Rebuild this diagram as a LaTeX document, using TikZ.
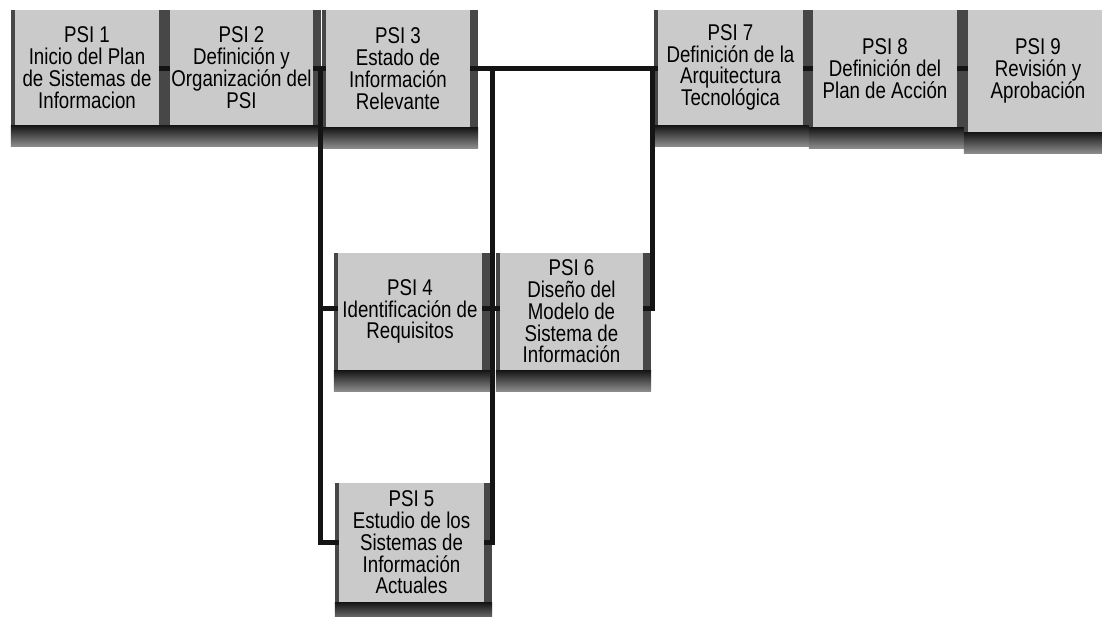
\documentclass[tikz,border=0pt]{standalone}
\usepackage{fontspec}
\setmainfont{Liberation Sans}[FakeStretch=0.82]
\usetikzlibrary{calc}
\pgfdeclarelayer{background}
\pgfsetlayers{background,main}
\definecolor{facegray}{RGB}{202,202,202}
\definecolor{linecol}{RGB}{20,20,20}
\tikzset{
  psibox/.style={rectangle, fill=facegray, inner sep=0pt, align=center,
    font=\fontsize{22.8}{21.8}\selectfont, text=black},
  conn/.style={draw=linecol, line width=5pt}
}
\begin{document}
\begin{tikzpicture}[x=1pt,y=-1pt]
\useasboundingbox (0,0) rectangle (1102,616);
% boxes
\node[psibox, minimum width=144pt, minimum height=115pt] (p1) at (87,67.5)
  {PSI 1\\Inicio del Plan\\de Sistemas de\\Informacion};
\node[psibox, minimum width=143pt, minimum height=115pt] (p2) at (241.5,67.5)
  {PSI 2\\Definición y\\Organización del\\PSI};
\node[psibox, minimum width=144pt, minimum height=117pt] (p3) at (398,68.5)
  {PSI 3\\Estado de\\Información\\Relevante};
\node[psibox, minimum width=145pt, minimum height=115pt] (p7) at (730.5,67.5)
  {PSI 7\\Definición de la\\Arquitectura\\Tecnológica};
\node[psibox, minimum width=144pt, minimum height=117pt] (p8) at (885,68.5)
  {PSI 8\\Definición del\\Plan de Acción};
\node[psibox, minimum width=140pt, minimum height=122pt] (p9) at (1038,71)
  {PSI 9\\Revisión y\\Aprobación};
\node[psibox, minimum width=144pt, minimum height=117pt] (p4) at (410,311.5)
  {PSI 4\\Identificación de\\Requisitos};
\node[psibox, minimum width=143pt, minimum height=117pt] (p6) at (571.5,311.5)
  {PSI 6\\Diseño del\\Modelo de\\Sistema de\\Información};
\node[psibox, minimum width=145pt, minimum height=119pt] (p5) at (411.5,542.5)
  {PSI 5\\Estudio de los\\Sistemas de\\Información\\Actuales};
% background and shadows
\begin{pgfonlayer}{background}
\fill[white] (0,0) rectangle (1102,616);
\foreach \n in {p1,p2,p3,p7,p8,p9,p4,p6,p5}{
  \fill[black!72] ($(\n.north west)+(-4,0)$) rectangle ($(\n.south east)+(8,0)$);
  \shade[top color=black!92, bottom color=black!45]
    ($(\n.south west)+(-4,0)$) rectangle ($(\n.south east)+(8,21)$);
}
\end{pgfonlayer}
% junction coordinates
\coordinate (j1) at (320,68);
\coordinate (j2) at (320,308);
\coordinate (j3) at (492,68);
\coordinate (j4) at (652,68);
% connectors
\draw[conn] (p1.east |- j1) -- (j1 -| p2.west);
\draw[conn] (p2.east |- j1) -- (j1 -| p3.west);
\draw[conn] (j1) |- (p5.west);
\draw[conn] (j2) -- (j2 -| p4.west);
\draw[conn] (p3.east |- j1) -- (j1 -| p7.west);
\draw[conn] (j3) |- (p5.east);
\draw[conn] (p4.east |- j2) -- (j2 -| p6.west);
\draw[conn] (p6.east |- j2) -| (j4);
\draw[conn] (p7.east |- j1) -- (j1 -| p8.west);
\draw[conn] (p8.east |- j1) -- (j1 -| p9.west);
\end{tikzpicture}
\end{document}
